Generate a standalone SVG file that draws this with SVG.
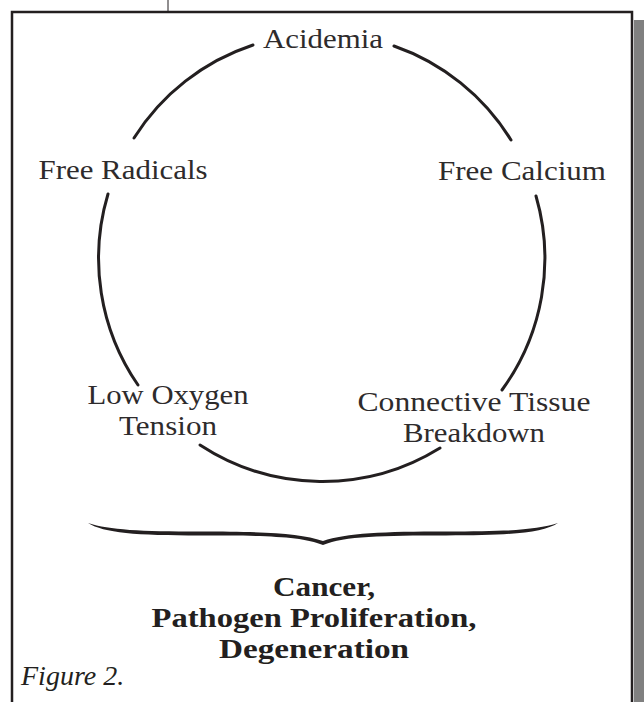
<svg xmlns="http://www.w3.org/2000/svg" width="644" height="702" viewBox="0 0 644 702">
  <style>
    .lbl { font-family: "Liberation Serif", "Times New Roman", serif; font-size: 28px; fill: #2e2b2c; text-anchor: middle; }
    .out { font-family: "Liberation Serif", "Times New Roman", serif; font-size: 28px; font-weight: bold; fill: #231f20; text-anchor: middle; }
    .fig { font-family: "Liberation Serif", "Times New Roman", serif; font-size: 28px; font-style: italic; fill: #231f20; }
    .arc { fill: none; stroke: #231f20; stroke-width: 3; stroke-linecap: round; }
  </style>
  <rect x="0" y="0" width="644" height="702" fill="#ffffff"/>
  <g id="frame">
    <rect x="634" y="20" width="10" height="682" fill="#808080"/>
    <line x1="168" y1="0" x2="168" y2="11" stroke="#231f20" stroke-width="1"/>
    <polyline points="12,702 12,12 632,12 632,702" fill="none" stroke="#231f20" stroke-width="2.5"/>
  </g>
  <g id="connectors">
    <path class="arc" d="M 394,46 A 223.5 223.5 0 0 1 511,140"/>
    <path class="arc" d="M 536,196 A 223.5 223.5 0 0 1 502,390"/>
    <path class="arc" d="M 440,448 A 223.5 223.5 0 0 1 200,445"/>
    <path class="arc" d="M 138,385 A 223.5 223.5 0 0 1 108,194"/>
    <path class="arc" d="M 134,138 A 223.5 223.5 0 0 1 253,45"/>
    <path id="brace" fill="#231f20" d="M 88,523 C 110,530 140,531.5 200,531.5 C 262,531.5 300,533 323,541 C 346,533 384,531.5 446,531.5 C 506,531.5 536,530 558,523 C 542,533 510,535.5 446,535.5 C 382,535.5 345,536 323,545 C 301,536 264,535.5 200,535.5 C 136,535.5 104,533 88,523 Z"/>
  </g>
  <g id="acidemia"><text class="lbl" x="323" y="48" textLength="120" lengthAdjust="spacingAndGlyphs">Acidemia</text></g>
  <g id="free-radicals"><text class="lbl" x="123" y="179" textLength="169" lengthAdjust="spacingAndGlyphs">Free Radicals</text></g>
  <g id="free-calcium"><text class="lbl" x="522" y="180" textLength="168" lengthAdjust="spacingAndGlyphs">Free Calcium</text></g>
  <g id="low-oxygen">
    <text class="lbl" x="168" y="404" textLength="161" lengthAdjust="spacingAndGlyphs">Low Oxygen</text>
    <text class="lbl" x="168" y="435" textLength="98" lengthAdjust="spacingAndGlyphs">Tension</text>
  </g>
  <g id="connective-tissue">
    <text class="lbl" x="474" y="411" textLength="233" lengthAdjust="spacingAndGlyphs">Connective Tissue</text>
    <text class="lbl" x="474" y="442" textLength="142" lengthAdjust="spacingAndGlyphs">Breakdown</text>
  </g>
  <g id="outcome">
    <text class="out" x="324" y="596" textLength="102" lengthAdjust="spacingAndGlyphs">Cancer,</text>
    <text class="out" x="314" y="627" textLength="325" lengthAdjust="spacingAndGlyphs">Pathogen Proliferation,</text>
    <text class="out" x="314" y="658" textLength="190" lengthAdjust="spacingAndGlyphs">Degeneration</text>
  </g>
  <g id="caption"><text class="fig" x="21" y="685">Figure 2.</text></g>
</svg>
